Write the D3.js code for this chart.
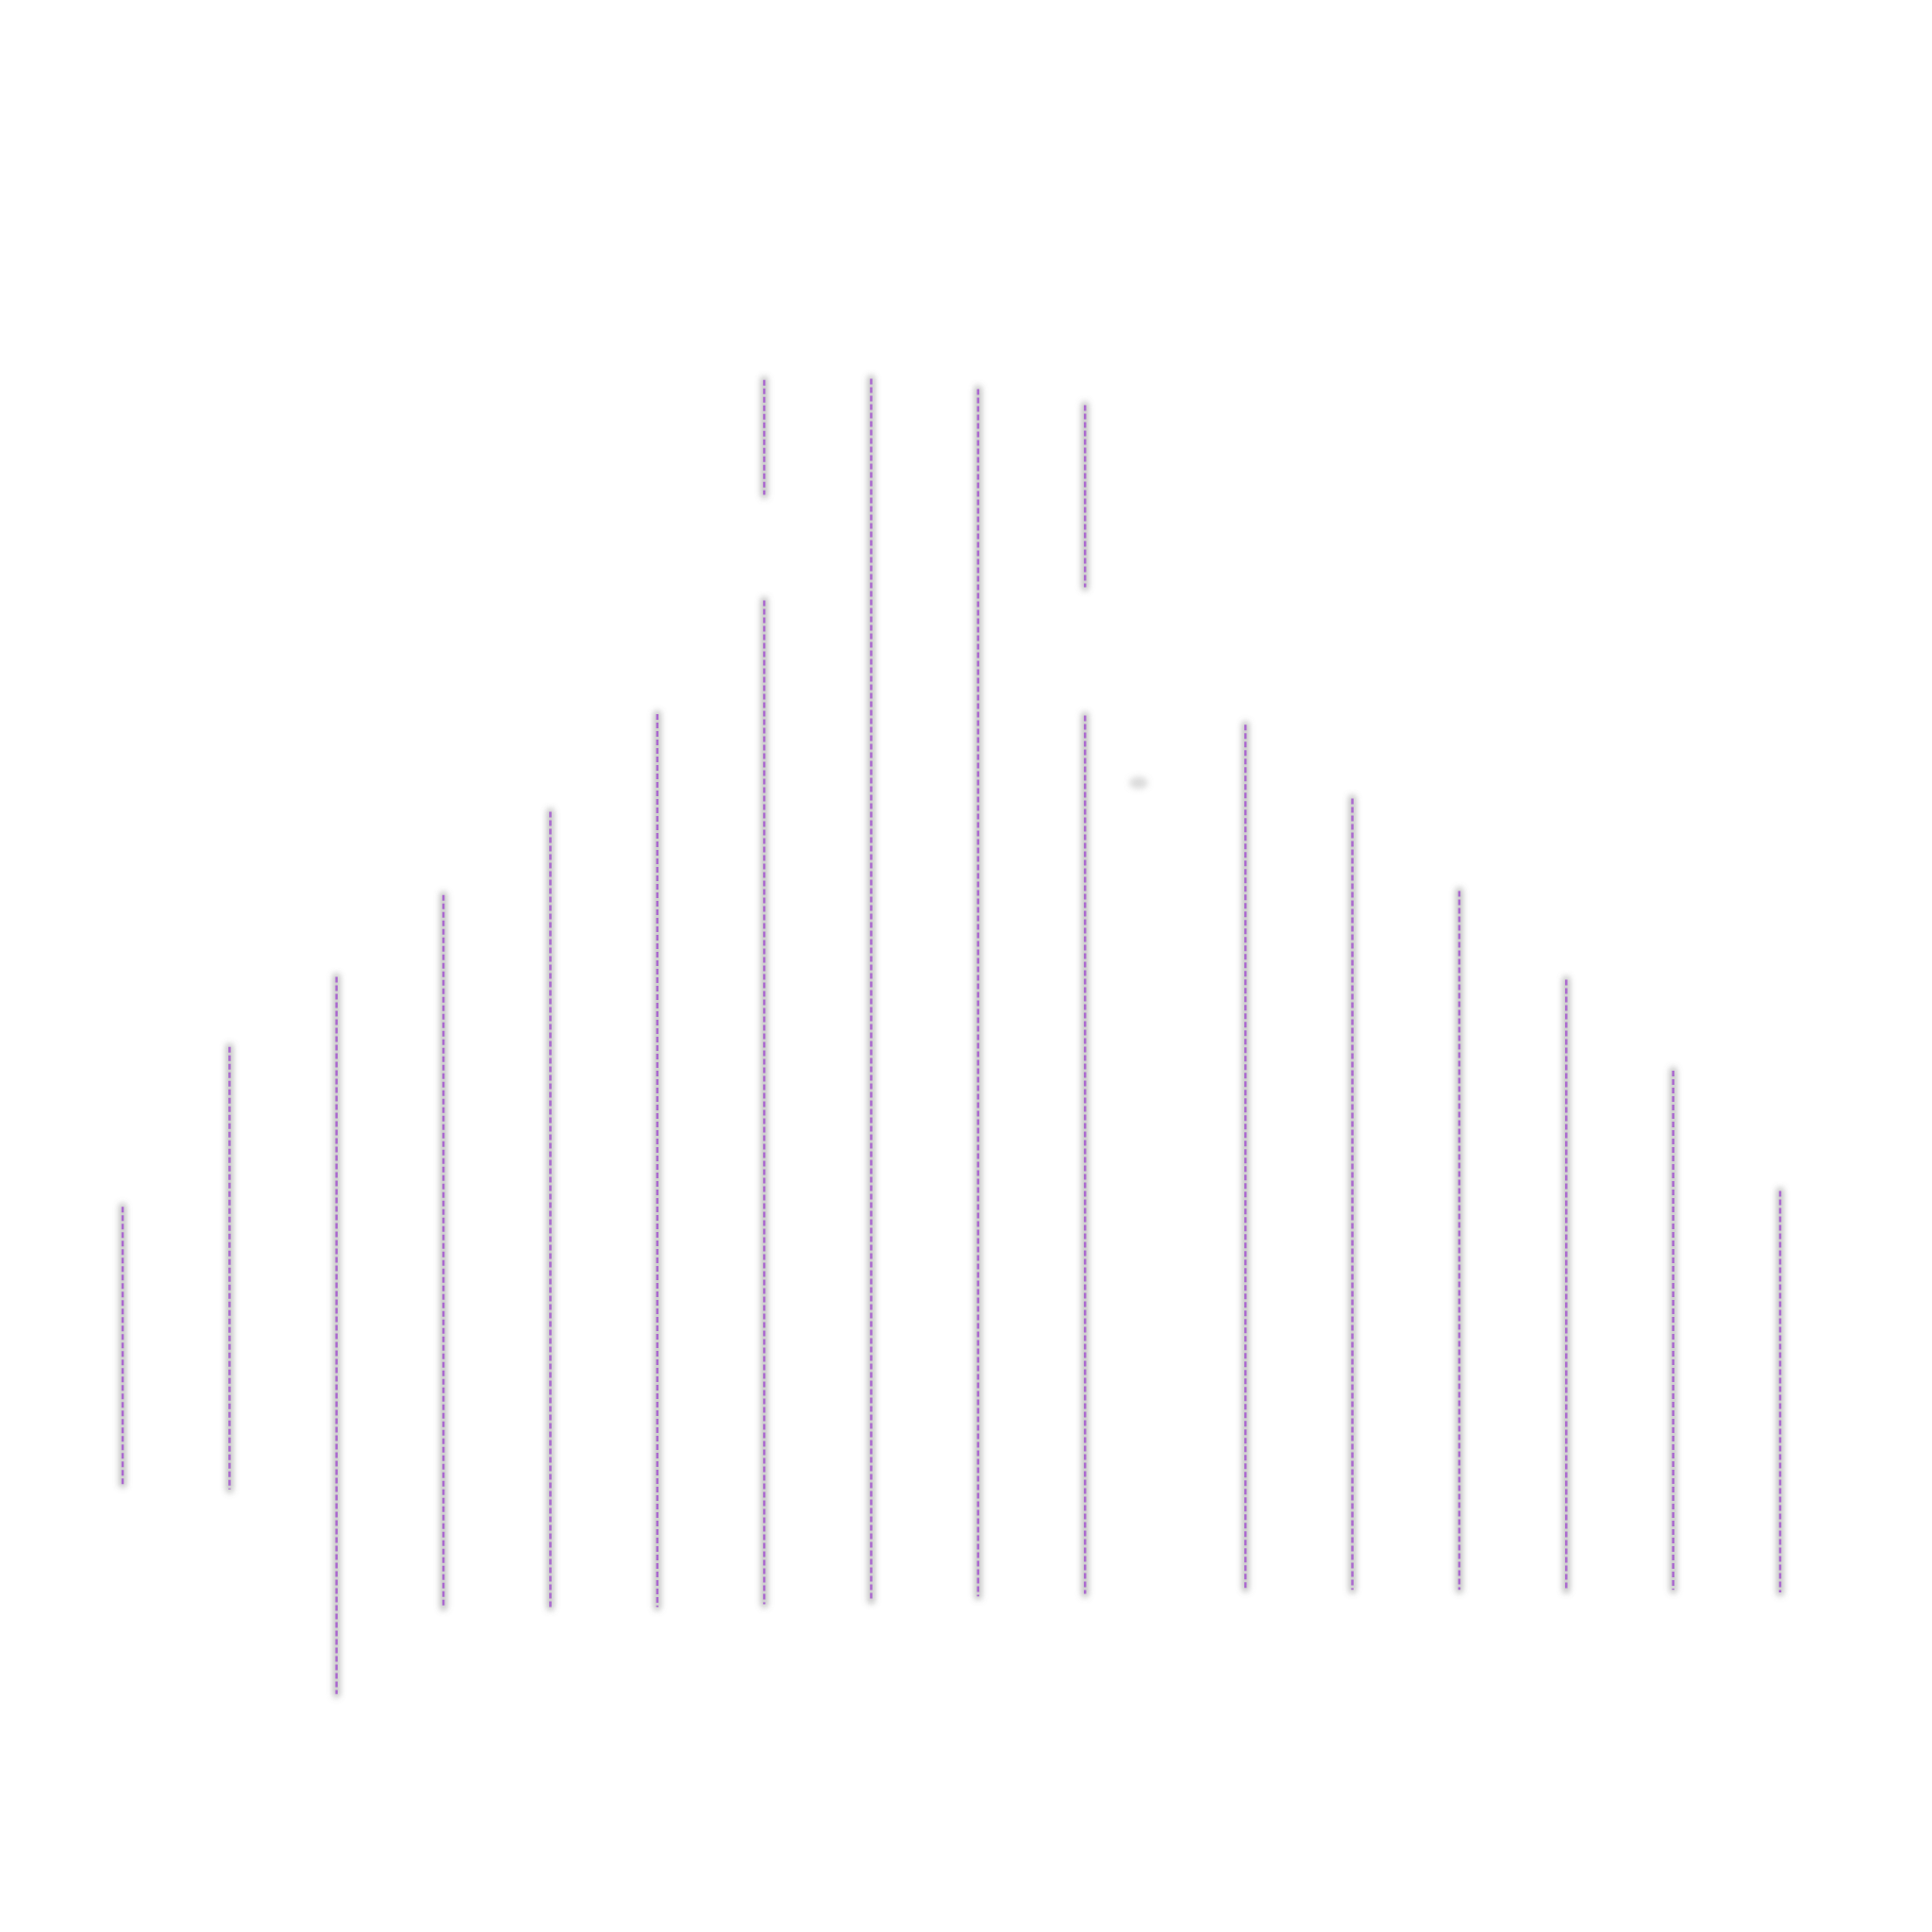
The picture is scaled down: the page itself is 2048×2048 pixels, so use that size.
<!DOCTYPE html>
<html>
<head>
<meta charset="utf-8">
<style>
  body { margin: 0; background: #fff; }
  svg { display: block; }
</style>
<script src="https://cdn.jsdelivr.net/npm/d3@7"></script>
</head>
<body>
<svg width="2048" height="2048"></svg>
<script>
// x position of each range (gap after the 10th one)
var xs = [0, 1, 2, 3, 4, 5, 6, 7, 8, 9, 10.5, 11.5, 12.5, 13.5, 14.5, 15.5];
// low and high end of each range
var lows = [16.2, 15.8, 0.3, 6.9, 6.9, 6.9, 7.1, 7.4, 7.7, 7.9, 8.3, 8.2, 8.2, 8.2, 8.2, 8.0];
var highs = [37.2, 49.3, 54.6, 60.8, 67.1, 74.5, 99.8, 99.9, 99.1, 97.9, 73.7, 68.1, 61.1, 54.4, 47.5, 38.4];
// broken ranges: [top of lower piece, bottom of upper piece], null = unbroken
var breaks = [null, null, null, null, null, null, [83.1, 91.1], null, null, [74.4, 84.1], null, null, null, null, null, null];
// lone empty point
var emptyX = [9.5],
    emptyY = [69.3];

var svg = d3.select("svg"),
    margin = {top: 400, right: 161, bottom: 248, left: 130},
    width = +svg.attr("width") - margin.left - margin.right,
    height = +svg.attr("height") - margin.top - margin.bottom;

var x = d3.scaleLinear().domain([0, 15.5]).range([0, width]),
    y = d3.scaleLinear().domain([0, 100]).range([height, 0]);

// soft grey shadow (user space region, the lines have zero width)
var defs = svg.append("defs");
defs.append("filter")
    .attr("id", "soft")
    .attr("filterUnits", "userSpaceOnUse")
    .attr("x", -margin.left).attr("y", -margin.top)
    .attr("width", 2048).attr("height", 2048)
    .append("feGaussianBlur")
    .attr("stdDeviation", 3.2);

var g = svg.append("g")
    .attr("transform", "translate(" + margin.left + "," + margin.top + ")");

// split every range into its visible pieces
var segs = [];
xs.forEach(function (v, i) {
    if (breaks[i]) {
        segs.push({x: v, lo: lows[i], hi: breaks[i][0]});
        segs.push({x: v, lo: breaks[i][1], hi: highs[i]});
    } else {
        segs.push({x: v, lo: lows[i], hi: highs[i]});
    }
});

g.selectAll(".shadow")
    .data(segs)
    .enter().append("line")
    .attr("class", "shadow")
    .attr("x1", function (d) { return x(d.x); })
    .attr("x2", function (d) { return x(d.x); })
    .attr("y1", function (d) { return y(d.lo); })
    .attr("y2", function (d) { return y(d.hi); })
    .attr("stroke", "#707070")
    .attr("stroke-opacity", 0.42)
    .attr("stroke-width", 8)
    .attr("stroke-linecap", "round")
    .attr("filter", "url(#soft)");

g.selectAll(".empty")
    .data(emptyX)
    .enter().append("ellipse")
    .attr("class", "empty")
    .attr("cx", function (d) { return x(d); })
    .attr("cy", function (d, i) { return y(emptyY[i]); })
    .attr("rx", 10)
    .attr("ry", 6.5)
    .attr("fill", "#888")
    .attr("fill-opacity", 0.3)
    .attr("filter", "url(#soft)");

g.selectAll(".range")
    .data(segs)
    .enter().append("line")
    .attr("class", "range")
    .attr("x1", function (d) { return x(d.x); })
    .attr("x2", function (d) { return x(d.x); })
    .attr("y1", function (d) { return y(d.hi); })
    .attr("y2", function (d) { return y(d.lo); })
    .attr("stroke", "#ab69cf")
    .attr("stroke-width", 2.5)
    .attr("stroke-dasharray", "6,3");
</script>
</body>
</html>
